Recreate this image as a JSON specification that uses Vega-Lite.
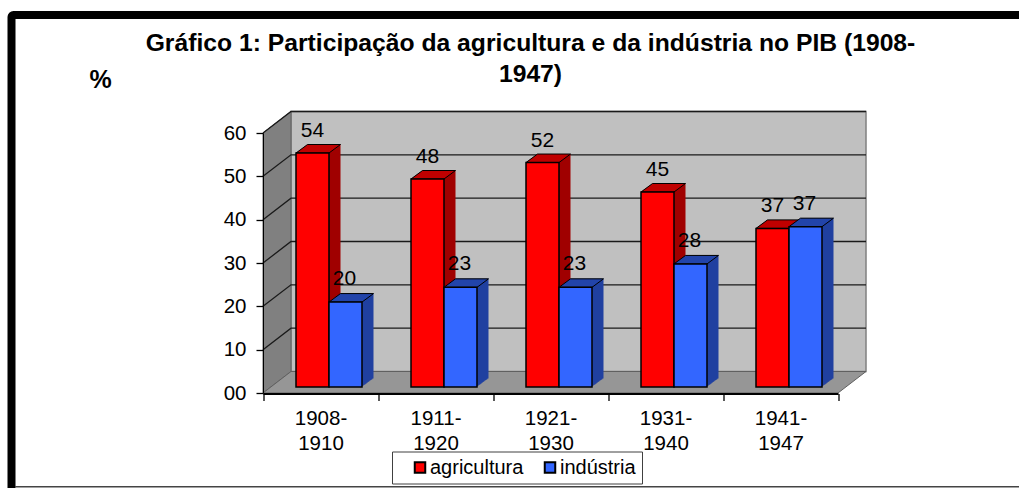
{"$schema":"https://vega.github.io/schema/vega-lite/v6.json","autosize":"none","padding":{"left":11.5,"top":15,"right":0,"bottom":0},"width":1040,"height":480,"background":"white","view":{"stroke":"#000000","strokeWidth":8,"cornerRadius":2,"fill":"white"},"config":{"font":"Liberation Sans"},"title":{"text":["Gráfico 1: Participação da agricultura e da indústria no PIB (1908-","1947)"],"font":"Liberation Sans","fontSize":24.7,"fontWeight":"bold","color":"#000000","lineHeight":31,"anchor":"middle","frame":"group","dx":-1,"offset":-72},"data":{"values":[{"periodo":"1908-1910","serie":"agricultura","valor":54},{"periodo":"1908-1910","serie":"indústria","valor":19.6},{"periodo":"1911-1920","serie":"agricultura","valor":48},{"periodo":"1911-1920","serie":"indústria","valor":23},{"periodo":"1921-1930","serie":"agricultura","valor":51.8},{"periodo":"1921-1930","serie":"indústria","valor":23},{"periodo":"1931-1940","serie":"agricultura","valor":45},{"periodo":"1931-1940","serie":"indústria","valor":28.4},{"periodo":"1941-1947","serie":"agricultura","valor":36.6},{"periodo":"1941-1947","serie":"indústria","valor":37}]},"encoding":{"x":{"field":"periodo","type":"nominal","sort":null,"scale":{"type":"band","domain":["1908-1910","1911-1920","1921-1930","1931-1940","1941-1947"],"paddingInner":0,"paddingOuter":0,"range":[251.5,826.5]},"axis":{"title":null,"orient":"bottom","offset":-101.5,"zindex":1,"tickBand":"extent","tickSize":7,"tickColor":"#000000","tickWidth":1.3,"domainColor":"#000000","domainWidth":2.2,"labelAngle":0,"labelFontSize":20.5,"labelColor":"#000000","labelLineHeight":25,"labelPadding":7.5,"labelOverlap":false,"labelExpr":"[slice(datum.label,0,5),slice(datum.label,5)]"}},"y":{"field":"valor","type":"quantitative","scale":{"domain":[0,60],"nice":false,"range":[378,118]},"axis":{"title":"%","titleX":-163,"titleY":64,"titleAngle":0,"titleAlign":"center","titleBaseline":"middle","titleFontSize":25,"titleFontWeight":"bold","titleColor":"#000000","orient":"left","offset":-251.5,"zindex":1,"grid":false,"values":[0,10,20,30,40,50,60],"format":"02d","tickSize":7,"tickColor":"#000000","tickWidth":1.3,"domainColor":"#000000","domainWidth":1,"labelFontSize":20.5,"labelColor":"#000000","labelPadding":10}}},"layer":[{"data":{"values":[{"base":0}]},"encoding":{"x":{"datum":"1908-1910","type":"nominal","bandPosition":0},"y":{"field":"base","type":"quantitative"}},"layer":[{"mark":{"type":"point","filled":true,"opacity":1,"size":4,"fill":"#c0c0c0","stroke":"#808080","strokeWidth":1.5,"shape":"M28,-21.5L603,-21.5L603,-281.5L28,-281.5Z"}},{"mark":{"type":"point","filled":true,"opacity":1,"size":4,"fill":"#808080","stroke":"#606060","strokeWidth":1,"shape":"M0,0L28,-21.5L28,-281.5L0,-260Z"}},{"mark":{"type":"point","filled":true,"opacity":1,"size":4,"fill":"#969696","stroke":"#606060","strokeWidth":1,"shape":"M0,0L575,0L603,-21.5L28,-21.5Z"}},{"mark":{"type":"point","filled":false,"opacity":1,"size":4,"stroke":"#444444","strokeWidth":1.6,"shape":"M-248,93.7L790,93.7"}}]},{"data":{"values":[{"grade":10},{"grade":20},{"grade":30},{"grade":40},{"grade":50},{"grade":60}]},"mark":{"type":"point","filled":false,"opacity":1,"size":4,"stroke":"#1a1a1a","strokeWidth":1.3,"shape":"M0,0L28,-21.5L603,-21.5"},"encoding":{"x":{"datum":"1908-1910","type":"nominal","bandPosition":0},"y":{"field":"grade","type":"quantitative"}}},{"transform":[{"filter":"datum.serie==='agricultura'"}],"layer":[{"mark":{"type":"bar","width":33,"color":"#a00000","xOffset":-7.04,"yOffset":-6.71,"y2Offset":-6.71}},{"mark":{"type":"bar","width":33,"color":"#a00000","xOffset":-6.08,"yOffset":-7.42,"y2Offset":-7.42}},{"mark":{"type":"bar","width":33,"color":"#a00000","xOffset":-5.12,"yOffset":-8.13,"y2Offset":-8.13}},{"mark":{"type":"bar","width":33,"color":"#a00000","xOffset":-4.17,"yOffset":-8.83,"y2Offset":-8.83}},{"mark":{"type":"bar","width":33,"color":"#a00000","xOffset":-3.21,"yOffset":-9.54,"y2Offset":-9.54}},{"mark":{"type":"bar","width":33,"color":"#a00000","xOffset":-2.25,"yOffset":-10.25,"y2Offset":-10.25}},{"mark":{"type":"bar","width":33,"color":"#a00000","xOffset":-1.29,"yOffset":-10.96,"y2Offset":-10.96}},{"mark":{"type":"bar","width":33,"color":"#a00000","xOffset":-0.33,"yOffset":-11.67,"y2Offset":-11.67}},{"mark":{"type":"bar","width":33,"color":"#a00000","xOffset":0.63,"yOffset":-12.38,"y2Offset":-12.38}},{"mark":{"type":"bar","width":33,"color":"#a00000","xOffset":1.58,"yOffset":-13.08,"y2Offset":-13.08}},{"mark":{"type":"bar","width":33,"color":"#a00000","xOffset":2.54,"yOffset":-13.79,"y2Offset":-13.79}},{"mark":{"type":"bar","width":33,"color":"#a00000","xOffset":3.5,"yOffset":-14.5,"y2Offset":-14.5}},{"mark":{"type":"point","filled":true,"opacity":1,"size":4,"fill":"#c00000","stroke":"#000000","strokeWidth":1,"xOffset":-24.5,"yOffset":-6,"shape":"M0,0L11.5,-8.5L44.5,-8.5L33,0Z"}},{"mark":{"type":"bar","width":33,"stroke":"#000000","strokeWidth":1.5,"xOffset":-8,"yOffset":-6,"y2Offset":-6},"encoding":{"color":{"field":"serie","type":"nominal","scale":{"domain":["agricultura","indústria"],"range":["#ff0000","#3366ff"]},"legend":{"title":null,"orient":"none","legendX":380.5,"legendY":436.5,"direction":"horizontal","fillColor":"white","strokeColor":"#404040","padding":6,"gridAlign":"all","symbolType":"square","symbolSize":110,"symbolStrokeColor":"#000000","symbolStrokeWidth":2,"symbolOffset":12,"labelFontSize":20,"labelColor":"#000000","labelOffset":0,"columnPadding":4}}}}]},{"transform":[{"filter":"datum.serie==='indústria'"}],"layer":[{"mark":{"type":"bar","width":33,"color":"#2040a0","xOffset":25.96,"yOffset":-6.71,"y2Offset":-6.71}},{"mark":{"type":"bar","width":33,"color":"#2040a0","xOffset":26.92,"yOffset":-7.42,"y2Offset":-7.42}},{"mark":{"type":"bar","width":33,"color":"#2040a0","xOffset":27.88,"yOffset":-8.13,"y2Offset":-8.13}},{"mark":{"type":"bar","width":33,"color":"#2040a0","xOffset":28.83,"yOffset":-8.83,"y2Offset":-8.83}},{"mark":{"type":"bar","width":33,"color":"#2040a0","xOffset":29.79,"yOffset":-9.54,"y2Offset":-9.54}},{"mark":{"type":"bar","width":33,"color":"#2040a0","xOffset":30.75,"yOffset":-10.25,"y2Offset":-10.25}},{"mark":{"type":"bar","width":33,"color":"#2040a0","xOffset":31.71,"yOffset":-10.96,"y2Offset":-10.96}},{"mark":{"type":"bar","width":33,"color":"#2040a0","xOffset":32.67,"yOffset":-11.67,"y2Offset":-11.67}},{"mark":{"type":"bar","width":33,"color":"#2040a0","xOffset":33.63,"yOffset":-12.38,"y2Offset":-12.38}},{"mark":{"type":"bar","width":33,"color":"#2040a0","xOffset":34.58,"yOffset":-13.08,"y2Offset":-13.08}},{"mark":{"type":"bar","width":33,"color":"#2040a0","xOffset":35.54,"yOffset":-13.79,"y2Offset":-13.79}},{"mark":{"type":"bar","width":33,"color":"#2040a0","xOffset":36.5,"yOffset":-14.5,"y2Offset":-14.5}},{"mark":{"type":"point","filled":true,"opacity":1,"size":4,"fill":"#2244aa","stroke":"#000000","strokeWidth":1,"xOffset":8.5,"yOffset":-6,"shape":"M0,0L11.5,-8.5L44.5,-8.5L33,0Z"}},{"mark":{"type":"bar","width":33,"stroke":"#000000","strokeWidth":1.5,"xOffset":25,"yOffset":-6,"y2Offset":-6},"encoding":{"color":{"field":"serie","type":"nominal","scale":{"domain":["agricultura","indústria"],"range":["#ff0000","#3366ff"]},"legend":null}}}]},{"transform":[{"filter":"datum.serie==='agricultura'"}],"mark":{"type":"text","fontSize":21,"color":"#000000","baseline":"middle","xOffset":-8,"yOffset":-28},"encoding":{"text":{"field":"valor","type":"quantitative","format":".0f"}}},{"transform":[{"filter":"datum.serie==='indústria'"}],"mark":{"type":"text","fontSize":21,"color":"#000000","baseline":"middle","xOffset":24,"yOffset":-29},"encoding":{"text":{"field":"valor","type":"quantitative","format":".0f"}}}]}
